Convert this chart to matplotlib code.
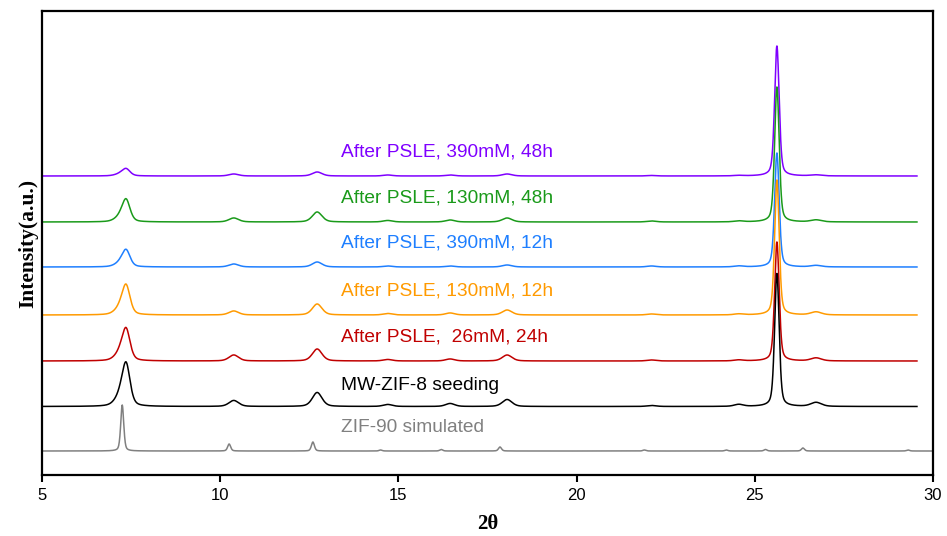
import numpy as np
import matplotlib
matplotlib.use('Agg')
import matplotlib.pyplot as plt

# peak tables (2theta, height above own baseline)
sample_pos = [7.2, 7.36, 10.38, 12.72, 14.7, 16.45, 18.05, 22.1, 24.55, 25.62, 26.72]
sample_fwhm = [0.35, 0.26, 0.32, 0.32, 0.3, 0.3, 0.32, 0.3, 0.3, 0.15, 0.35]

h_black = [10, 39, 6, 14, 2, 3, 7, 1, 2, 133, 4]
h_red = [8, 29, 6, 12, 1.5, 2, 6, 1, 1, 119, 3]
h_orange = [7, 27, 4, 11, 1.5, 2, 5, 1, 1, 135, 3]
h_blue = [4, 15.5, 3, 5, 1, 1, 2, 1, 1, 114, 1.5]
h_green = [5, 20.5, 4, 10, 1.5, 2, 4, 1, 1, 135, 2]
h_purple = [2, 6.5, 2, 4, 1, 1, 2, 0.5, 0.5, 130, 1]

sim_pos = [7.25, 10.25, 12.6, 14.5, 16.2, 17.85, 21.9, 24.2, 25.3, 26.35, 29.3]
sim_h = [46, 7, 9, 1, 1.5, 4, 1, 1, 1.5, 3, 1]
sim_fwhm = 0.1

labels = ["After PSLE, 390mM, 48h", "After PSLE, 130mM, 48h",
          "After PSLE, 390mM, 12h", "After PSLE, 130mM, 12h",
          "After PSLE,  26mM, 24h", "MW-ZIF-8 seeding", "ZIF-90 simulated"]
heights = [h_purple, h_green, h_blue, h_orange, h_red, h_black]
colors = ['#7F00FF', '#1A9A1A', '#1E7FFF', '#FF9A00', '#C00000', '#000000', '#808080']
offsets = [299, 253, 208, 160, 114, 68.5, 24]
label_y = [323, 277, 232, 184, 138, 90, 48]


def profile(x, pos, h, w):
    y = np.zeros_like(x)
    for p, a, f in zip(pos, h, w):
        g = np.exp(-4 * np.log(2) * ((x - p) / f) ** 2)
        l = 1 / (1 + 4 * ((x - p) / f) ** 2)
        y += a * (0.6 * g + 0.4 * l)
    return y


plt.rcParams['font.family'] = ['Liberation Sans', 'DejaVu Sans']
fig = plt.figure(figsize=(9.47, 5.36), dpi=100)
ax = fig.add_axes([0.0444, 0.1138, 0.9408, 0.8657])

x_s = np.linspace(5, 29.55, 3000)
for hh, c, off in zip(heights, colors, offsets):
    ax.plot(x_s, off + profile(x_s, sample_pos, hh, sample_fwhm), color=c, lw=1.1)

x_g = np.linspace(5, 30, 3000)
ax.plot(x_g, offsets[-1] + profile(x_g, sim_pos, sim_h, [sim_fwhm] * len(sim_pos)),
        color=colors[-1], lw=1.1)

for lab, c, ly in zip(labels, colors, label_y):
    ax.text(13.4, ly, lab, color=c, fontsize=13.8, va='center', ha='left')

ax.set_xlim(5, 30)
ax.set_ylim(0, 464)
ax.set_yticks([])
ax.set_xticks([5, 10, 15, 20, 25, 30])
ax.tick_params(axis='x', direction='out', length=5, width=1.5, labelsize=12, pad=4)
for s in ax.spines.values():
    s.set_linewidth(1.6)
ax.set_xlabel('2θ', family='Liberation Serif', fontweight='bold', fontsize=15, labelpad=8)
ax.set_ylabel('Intensity(a.u.)', family='Liberation Serif', fontweight='bold', fontsize=15.5, labelpad=3)

fig.savefig('out.png', dpi=100)
